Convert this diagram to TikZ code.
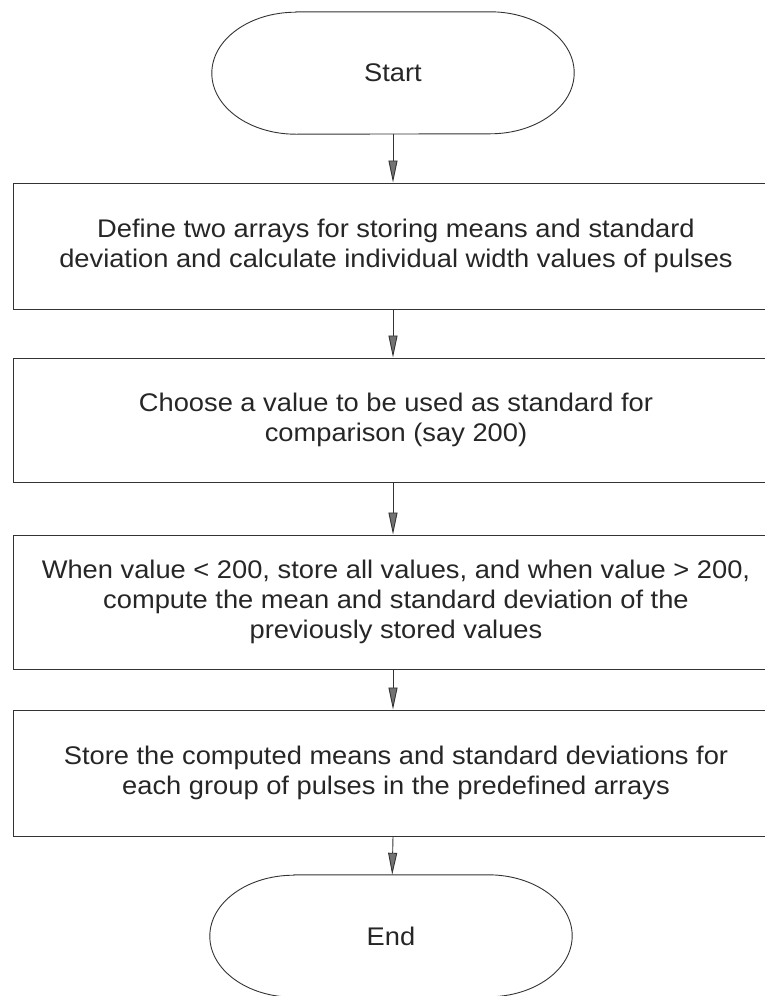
\documentclass[tikz,border=0pt]{standalone}
\usepackage{fontspec}
\setmainfont{Liberation Sans}[FakeStretch=1.07]
\usepackage{tikz}
\usetikzlibrary{arrows.meta}

\begin{document}
\begin{tikzpicture}[x=1pt,y=1pt,
  every node/.style={font=\fontsize{25.5}{30}\selectfont,text=black!85,align=center},
  stepbox/.style={draw=black!80,line width=1pt,minimum width=766pt,minimum height=126pt,inner sep=0pt},
  terminal/.style={minimum width=362pt,minimum height=122pt,inner sep=0pt},
  termline/.style={draw=black!80,line width=0.9pt},
  flow/.style={draw=black!80,line width=0.9pt,-{Triangle[length=22pt,width=9pt,fill=black!55]}}]
\useasboundingbox(0,0)rectangle(764,-996);
\node[terminal](start)at(393,-73){Start};
\draw[termline]([xshift=84pt]start.north west)--([xshift=-84pt]start.north east)
arc[start angle=90,end angle=-90,x radius=84pt,y radius=61pt]
--([xshift=84pt]start.south west)
arc[start angle=270,end angle=90,x radius=84pt,y radius=61pt]--cycle;
\node[stepbox](define)at(396,-246){Define two arrays for storing means and standard\\deviation and calculate individual width values of pulses};
\node[stepbox,minimum height=124pt](choose)at(396,-420){Choose a value to be used as standard for\\comparison (say 200)};
\node[stepbox,minimum height=134pt](split)at(396,-602){When value < 200, store all values, and when value > 200,\\compute the mean and standard deviation of the\\previously stored values};
\node[stepbox](store)at(396,-773){Store the computed means and standard deviations for\\each group of pulses in the predefined arrays};
\node[terminal](end)at(391,-936){End};
\draw[termline]([xshift=84pt]end.north west)--([xshift=-84pt]end.north east)
arc[start angle=90,end angle=-90,x radius=84pt,y radius=61pt]
--([xshift=84pt]end.south west)
arc[start angle=270,end angle=90,x radius=84pt,y radius=61pt]--cycle;
\draw[flow](start)--(define.north-|start);
\draw[flow](define.south-|start)--(choose.north-|start);
\draw[flow](choose.south-|start)--(split.north-|start);
\draw[flow](split.south-|start)--(store.north-|start);
\draw[flow](store.south-|start)--(end);
\end{tikzpicture}
\end{document}
